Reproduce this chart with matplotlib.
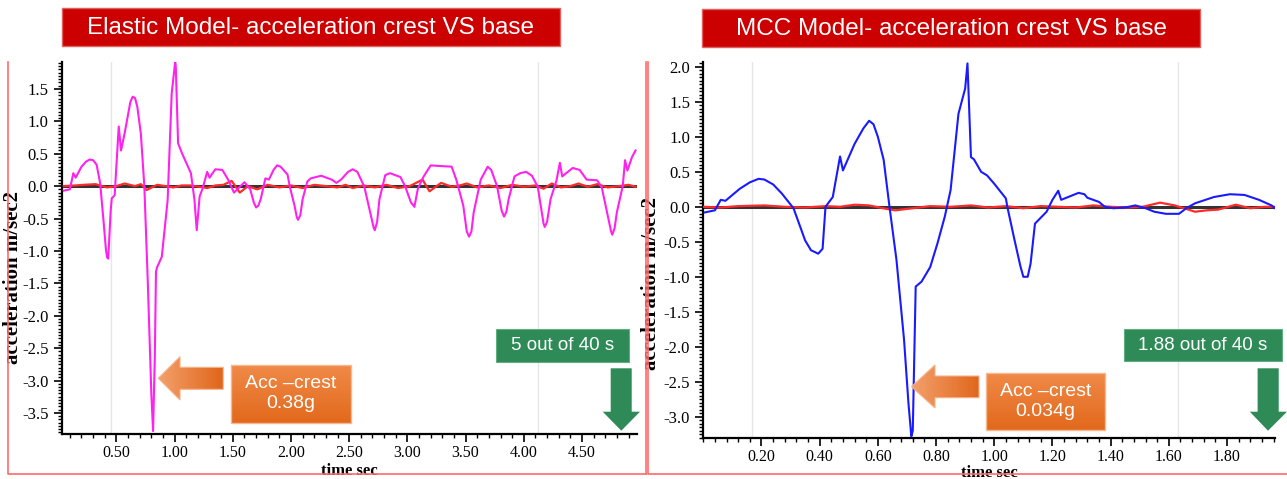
import numpy as np
import matplotlib
matplotlib.use("Agg")
import matplotlib.pyplot as plt
from matplotlib.patches import Polygon, Rectangle
from matplotlib.colors import LinearSegmentedColormap
from matplotlib.ticker import MultipleLocator, FormatStrFormatter

plt.rcParams['axes.unicode_minus'] = False

# ---------------- data ----------------
# Elastic model: crest acceleration (magenta)
elastic_t = [0.048, 0.10, 0.13, 0.15, 0.20, 0.24, 0.27, 0.30, 0.33, 0.36, 0.39, 0.41, 0.42, 0.43, 0.45, 0.46,
             0.485, 0.52, 0.54, 0.57, 0.60, 0.62, 0.64, 0.66, 0.68, 0.71, 0.74, 0.77, 0.80, 0.815, 0.83, 0.84,
             0.85, 0.89, 0.94, 0.975, 1.005, 1.01, 1.03, 1.065, 1.10, 1.14, 1.17, 1.19, 1.215, 1.24,
             1.28, 1.30, 1.35, 1.41, 1.46, 1.51, 1.56, 1.60, 1.65, 1.68, 1.70, 1.72, 1.74, 1.78, 1.81, 1.85, 1.88,
             1.91, 1.97, 1.99, 2.03, 2.05, 2.06, 2.08, 2.10, 2.14, 2.17, 2.26, 2.35, 2.39, 2.43, 2.49, 2.53, 2.57,
             2.63, 2.68, 2.71, 2.72, 2.74, 2.76, 2.81, 2.85, 2.94, 2.98, 3.03, 3.06, 3.09, 3.14, 3.20, 3.28,
             3.38, 3.42, 3.48, 3.51, 3.53, 3.55, 3.57, 3.63, 3.69, 3.72, 3.77, 3.81, 3.83, 3.85, 3.87, 3.92, 3.97, 4.02, 4.07,
             4.12, 4.15, 4.17, 4.18, 4.20, 4.23, 4.28, 4.31, 4.33, 4.42, 4.48, 4.54, 4.63, 4.67, 4.72, 4.75, 4.76, 4.78,
             4.80, 4.85, 4.87, 4.89, 4.93, 4.96]
elastic_acc = [-0.07, -0.05, 0.20, 0.13, 0.30, 0.38, 0.41, 0.40, 0.33, 0.05, -0.55, -0.98, -1.10, -1.12, -0.40, -0.19,
               -0.14, 0.92, 0.55, 0.81, 1.10, 1.30, 1.38, 1.36, 1.22, 0.81, 0.0, -1.50, -3.20, -3.78, -2.63, -1.32,
               -1.25, -1.09, -0.22, 1.43, 1.92, 1.85, 0.66, 0.50, 0.36, 0.20, -0.20, -0.68, -0.16, -0.04,
               0.22, 0.13, 0.26, 0.25, 0.10, -0.10, -0.01, 0.06, -0.05, -0.25, -0.33, -0.30, -0.20, 0.12, 0.10, 0.25, 0.32,
               0.30, 0.18, -0.01, -0.30, -0.48, -0.52, -0.45, -0.20, 0.07, 0.12, 0.16, 0.10, 0.05, 0.10, 0.22, 0.26, 0.22,
               -0.01, -0.40, -0.64, -0.68, -0.55, -0.20, 0.17, 0.20, 0.14, 0.00, -0.25, -0.32, -0.04, 0.15, 0.32, 0.31,
               0.30, 0.10, -0.30, -0.70, -0.78, -0.70, -0.40, 0.10, 0.30, 0.25, 0.00, -0.38, -0.47, -0.40, -0.20, 0.15, 0.20, 0.22, 0.16,
               -0.01, -0.35, -0.58, -0.63, -0.55, -0.20, 0.08, 0.36, 0.15, 0.28, 0.25, 0.10, 0.09, -0.02, -0.45, -0.70, -0.75, -0.65,
               -0.40, 0.00, 0.40, 0.24, 0.45, 0.55]
# Elastic model: base acceleration (red)
elastic_base_t = [0.048, 0.15, 0.22, 0.32, 0.42, 0.50, 0.57, 0.66, 0.71, 0.76, 0.85, 0.92, 0.99, 1.06,
                  1.14, 1.21, 1.28, 1.35, 1.42, 1.49, 1.56, 1.63, 1.71, 1.80, 1.90, 2.00, 2.10, 2.20,
                  2.30, 2.40, 2.47, 2.53, 2.62, 2.72, 2.82, 2.92, 3.02, 3.13, 3.19, 3.29, 3.38, 3.45,
                  3.51, 3.60, 3.70, 3.80, 3.90, 4.00, 4.10, 4.17, 4.24, 4.32, 4.40, 4.47, 4.55, 4.63,
                  4.72, 4.82, 4.90, 4.96]
elastic_base_acc = [0.0, 0.01, 0.02, 0.03, -0.02, 0.0, 0.04, 0.0, 0.03, -0.06, 0.02, 0.0, -0.02, 0.01,
                    0.01, -0.01, -0.03, 0.01, 0.02, 0.08, -0.10, 0.0, -0.05, 0.02, -0.02, 0.01, -0.03, 0.02,
                    0.0, -0.02, 0.02, -0.03, 0.01, -0.02, 0.02, -0.03, 0.0, 0.10, -0.08, 0.05, -0.01, 0.01,
                    0.04, -0.02, 0.01, -0.03, 0.02, -0.01, 0.01, -0.04, 0.04, -0.02, 0.0, 0.04, -0.01, 0.03,
                    -0.02, 0.0, 0.02, -0.01]

# MCC model: crest acceleration (blue)
mcc_t = [0.005, 0.04, 0.06, 0.076, 0.126, 0.16, 0.19, 0.21, 0.24, 0.27, 0.31, 0.35, 0.37, 0.395, 0.41, 0.42,
         0.445, 0.47, 0.48, 0.52, 0.55, 0.57, 0.585, 0.60, 0.62, 0.64, 0.664, 0.69, 0.705, 0.715, 0.72, 0.73, 0.75,
         0.78, 0.805, 0.83, 0.85, 0.877, 0.90, 0.908, 0.92, 0.93, 0.955, 0.975, 1.00, 1.04, 1.045, 1.07, 1.09,
         1.10, 1.115, 1.125, 1.14, 1.18, 1.20, 1.22, 1.23, 1.26, 1.29, 1.31, 1.32, 1.36, 1.38,
         1.41, 1.45, 1.485, 1.52, 1.55, 1.59, 1.635, 1.66, 1.69, 1.755, 1.81, 1.86, 1.91, 1.953, 1.965]
mcc_acc = [-0.08, -0.05, 0.10, 0.086, 0.26, 0.35, 0.40, 0.39, 0.32, 0.19, -0.02, -0.48, -0.62, -0.67, -0.60, 0.0,
           0.14, 0.72, 0.52, 0.90, 1.12, 1.23, 1.18, 1.00, 0.67, 0.0, -0.76, -1.90, -2.80, -3.28, -3.20, -1.14, -1.07,
           -0.86, -0.52, -0.14, 0.24, 1.33, 1.69, 2.05, 0.71, 0.68, 0.50, 0.45, 0.33, 0.12, 0.0, -0.48, -0.85,
           -1.00, -1.00, -0.81, -0.24, -0.07, 0.10, 0.23, 0.10, 0.15, 0.20, 0.18, 0.13, 0.07, 0.0,
           -0.02, -0.01, 0.02, -0.02, -0.07, -0.10, -0.10, -0.02, 0.05, 0.14, 0.18, 0.17, 0.10, 0.02, -0.02]
# MCC model: base acceleration (red)
mcc_base_t = [0.0, 0.06, 0.12, 0.21, 0.28, 0.35, 0.42, 0.47, 0.52, 0.57, 0.63, 0.66, 0.72, 0.78,
              0.85, 0.92, 0.98, 1.04, 1.10, 1.16, 1.22, 1.28, 1.34, 1.40, 1.46, 1.51, 1.57, 1.62,
              1.66, 1.69, 1.73, 1.77, 1.83, 1.88, 1.93, 1.965]
mcc_base_acc = [0.0, -0.01, 0.01, 0.02, 0.0, -0.01, 0.01, 0.0, 0.03, 0.02, -0.03, -0.05, -0.02, 0.01,
                0.0, 0.02, -0.01, 0.01, -0.02, 0.01, 0.0, -0.01, 0.02, 0.0, -0.01, 0.0, 0.06, 0.02,
                -0.03, -0.07, -0.05, -0.04, 0.03, -0.02, 0.0, 0.0]

panel_titles = ["Elastic Model- acceleration crest VS base", "MCC Model- acceleration crest VS base"]
crest_labels = ["Acc \u2013crest\n0.38g", "Acc \u2013crest\n0.034g"]
duration_labels = ["5 out of 40 s", "1.88 out of 40 s"]
x_label = "time sec"
y_label = "acceleration m/sec2"

# ---------------- layout ----------------
W, H = 1287, 479
fig = plt.figure(figsize=(W / 100, H / 100), dpi=100)
fig.patch.set_facecolor("white")

def ax_rect(x0, y0, x1, y1):
    return [x0 / W, 1 - y1 / H, (x1 - x0) / W, (y1 - y0) / H]

serif = ["Liberation Serif", "DejaVu Serif"]
sans = ["Liberation Sans", "DejaVu Sans"]

def style_axes(ax, xlim, ylim, xminor, yticks, yminor, xticks, grid_x):
    for s in ["top", "right"]:
        ax.spines[s].set_visible(False)
    for s in ["left", "bottom"]:
        ax.spines[s].set_linewidth(1.6)
        ax.spines[s].set_color("black")
    ax.xaxis.set_minor_locator(MultipleLocator(xminor))
    ax.yaxis.set_minor_locator(MultipleLocator(yminor))
    ax.set_xticks(xticks)
    ax.set_yticks(yticks)
    ax.set_xlim(*xlim)
    ax.set_ylim(*ylim)
    ax.xaxis.set_major_formatter(FormatStrFormatter("%.2f"))
    ax.yaxis.set_major_formatter(FormatStrFormatter("%.1f"))
    ax.tick_params(which="major", direction="out", length=6, width=1.2, labelsize=12, colors="black")
    ax.tick_params(which="minor", direction="out", length=3, width=1.0)
    ax.tick_params(axis="x", which="major", labelsize=11.5, pad=2)
    for lab in ax.get_xticklabels() + ax.get_yticklabels():
        lab.set_family(serif)
    for gx in grid_x:
        ax.axvline(gx, color="#e6e6e6", lw=1.0, zorder=0)
    ax.set_xlabel(x_label, family=serif, fontweight="bold", fontsize=12)
    ax.set_ylabel(y_label, family=serif, fontweight="bold", fontsize=15)

# Left panel
axL = fig.add_axes(ax_rect(61.7, 61.7, 636.7, 434.3))
axL.axhline(0, color="#333333", lw=2.2, zorder=2)
axL.plot(elastic_base_t, elastic_base_acc, color="#ff2a2a", lw=1.6, zorder=3)
axL.plot(elastic_t, elastic_acc, color="#ff22ee", lw=1.5, zorder=4)
style_axes(axL, (0.03, 4.97), (-3.83, 1.92), 0.1,
           list(np.arange(-3.5, 1.51, 0.5)), 0.05, list(np.arange(0.5, 4.51, 0.5)), [0.457, 4.12])
axL.yaxis.set_label_coords(-0.068, 0.42)
axL.xaxis.set_label_coords(0.50, -0.077)

# Right panel
axR = fig.add_axes(ax_rect(703.3, 62.0, 1275.0, 437.7))
axR.axhline(0, color="#333333", lw=2.2, zorder=2)
axR.plot(mcc_base_t, mcc_base_acc, color="#ff2a2a", lw=1.6, zorder=3)
axR.plot(mcc_t, mcc_acc, color="#1a1aff", lw=1.5, zorder=4)
style_axes(axR, (0.0, 1.965), (-3.30, 2.07), 0.04,
           list(np.arange(-3.0, 2.01, 0.5)), 0.05, list(np.arange(0.2, 1.81, 0.2)), [0.167, 1.63])
axR.yaxis.set_label_coords(-0.074, 0.41)
axR.xaxis.set_label_coords(0.50, -0.073)

# ---------------- overlay (pixel coordinates) ----------------
ov = fig.add_axes([0, 0, 1, 1], zorder=10)
ov.set_xlim(0, W)
ov.set_ylim(H, 0)
ov.axis("off")
ov.patch.set_alpha(0)
ov.set_autoscale_on(False)

# red panel frames
frame_c = "#ff6b6b"
ov.plot([8.3, 8.3, 646], [62, 473.5, 473.5], color=frame_c, lw=1.2)
ov.plot([646, 646], [62, 473.5], color=frame_c, lw=1.2)
ov.plot([648.3, 648.3, 1287], [62, 473.5, 473.5], color=frame_c, lw=1.2)

def grad_fill(patch, bounds, c1, c2, horizontal):
    x0, y0, x1, y1 = bounds
    patch.set_facecolor("none")
    ov.add_patch(patch)
    arr = np.linspace(0, 1, 256)
    arr = arr.reshape(1, -1) if horizontal else arr.reshape(-1, 1)
    cmap = LinearSegmentedColormap.from_list("g", [c1, c2])
    im = ov.imshow(arr, extent=[x0, x1, y1, y0], origin="upper",
                   cmap=cmap, aspect="auto", zorder=patch.get_zorder() - 0.1, interpolation="bilinear")
    im.set_clip_path(patch)
    ov.set_xlim(0, W)
    ov.set_ylim(H, 0)

# title boxes
title_boxes = [(62.2, 8.3, 559.6, 46.0), (701.9, 9.3, 1200.3, 46.7)]
for (x0, y0, x1, y1), t in zip(title_boxes, panel_titles):
    ov.add_patch(Rectangle((x0, y0), x1 - x0, y1 - y0, facecolor="#cc0000",
                           edgecolor="#e06060", lw=1.0, zorder=5))
    ov.text((x0 + x1) / 2, (y0 + y1) / 2 + 1, t, color="white", fontsize=17.5, family=sans,
            ha="center", va="center", zorder=6)

# orange arrows + boxes
orange_arrows = [(158.3, 180.0, 223.3, 378.3, 356.7, 400.0, 367.3, 389.3),
                 (911.5, 935.0, 979.0, 386.7, 365.0, 408.0, 376.0, 397.7)]
for (tip_x, head_x, end_x, tip_y, hy0, hy1, sy0, sy1) in orange_arrows:
    poly = Polygon([(tip_x, tip_y), (head_x, hy0), (head_x, sy0), (end_x, sy0),
                    (end_x, sy1), (head_x, sy1), (head_x, hy1)], closed=True,
                   edgecolor="#f6b28a", lw=0.8, zorder=6)
    grad_fill(poly, (tip_x, hy0, end_x, hy1), "#f3a06c", "#e0661a", horizontal=True)

orange_boxes = [(230.7, 365.0, 350.7, 422.7), (985.8, 372.7, 1105.4, 430.0)]
for (x0, y0, x1, y1), t in zip(orange_boxes, crest_labels):
    rect = Rectangle((x0, y0), x1 - x0, y1 - y0, edgecolor="#f6b890", lw=1.0, zorder=6)
    grad_fill(rect, (x0, y0, x1, y1), "#f08a48", "#e2691c", horizontal=False)
    ov.text((x0 + x1) / 2, (y0 + y1) / 2, t, color="white", fontsize=14, family=sans,
            ha="center", va="center", linespacing=1.25, zorder=7)

# green labels + down arrows
green = "#2e8b57"
green_boxes = [(496.0, 329.3, 629.0, 361.7), (1123.6, 329.3, 1281.6, 360.7)]
for (x0, y0, x1, y1), t in zip(green_boxes, duration_labels):
    ov.add_patch(Rectangle((x0, y0), x1 - x0, y1 - y0, facecolor=green,
                           edgecolor="#5fae82", lw=0.8, zorder=6))
    ov.text((x0 + x1) / 2, (y0 + y1) / 2 + 0.5, t, color="white", fontsize=13.5, family=sans,
            ha="center", va="center", zorder=7)

green_arrows = [(610.7, 631.7, 602.7, 640.0, 621.3, 368.3, 411.7, 430.7),
                (1257.6, 1278.7, 1249.8, 1287.0, 1268.0, 368.3, 411.7, 430.7)]
for (sx0, sx1, hx0, hx1, tx, y_top, y_head, y_tip) in green_arrows:
    ov.add_patch(Polygon([(sx0, y_top), (sx1, y_top), (sx1, y_head), (hx1, y_head),
                          (tx, y_tip), (hx0, y_head), (sx0, y_head)], closed=True,
                         facecolor=green, edgecolor="none", zorder=6))

fig.savefig("out.png", dpi=100)
